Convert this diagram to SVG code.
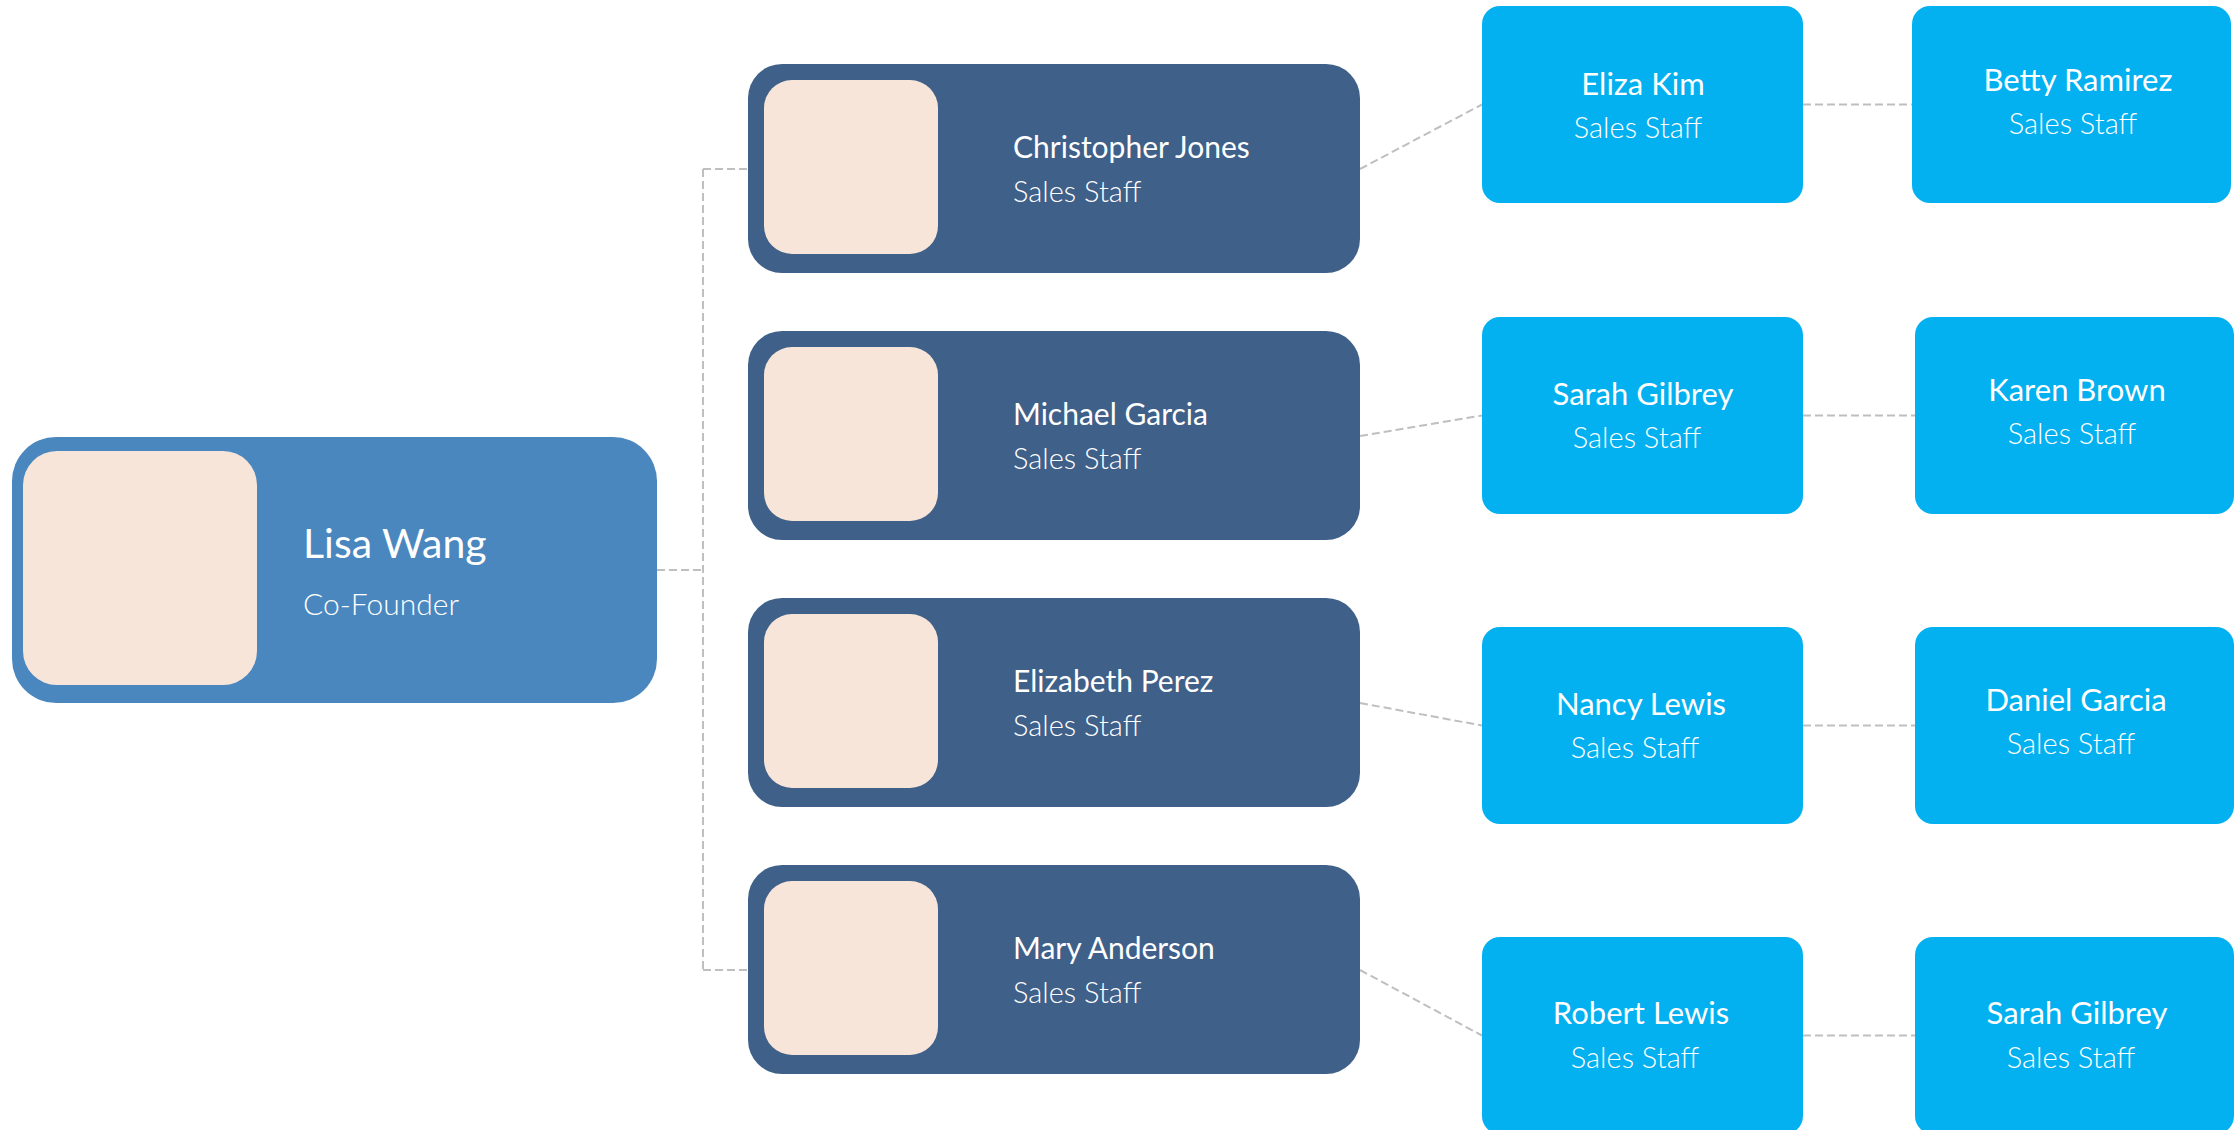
<svg xmlns="http://www.w3.org/2000/svg" width="2239" height="1130" viewBox="0 0 2239 1130">
<style>
.conn{fill:none;stroke:#BFBFBF;stroke-width:2;stroke-dasharray:8 4}
.root{fill:#4A87BE}
.mid{fill:#3F6089}
.leaf{fill:#03B0F0}
.photo{fill:#F8E5D9}
text{font-family:Lato,"Open Sans","Liberation Sans",sans-serif;fill:#FFFFFF}
.rn{font-size:41px;font-weight:400}
.rs{font-size:30px;font-weight:300}
.mn{font-size:30px;font-weight:400}
.ms{font-size:29px;font-weight:300}
.ln{font-size:31px;font-weight:400;text-anchor:middle}
.ls{font-size:29px;font-weight:300;text-anchor:middle}
</style>
<rect width="2239" height="1130" fill="#FFFFFF"/>
<g id="connectors">
<path class="conn" d="M657 570H703"/>
<path class="conn" d="M703 169V970"/>
<path class="conn" d="M703 169H748"/>
<path class="conn" d="M703 970H748"/>
<path class="conn" d="M1360 169L1482 104.5"/>
<path class="conn" d="M1360 436L1482 415.5"/>
<path class="conn" d="M1360 703L1482 725.5"/>
<path class="conn" d="M1360 970L1482 1035.5"/>
<path class="conn" d="M1803 104.5H1912"/>
<path class="conn" d="M1803 415.5H1915"/>
<path class="conn" d="M1803 725.5H1915"/>
<path class="conn" d="M1803 1035.5H1915"/>
</g>
<g id="lisa-wang">
<rect class="root" x="12" y="437" width="645" height="266" rx="44"/>
<rect class="photo" x="23" y="451" width="234" height="234" rx="34"/>
<text class="rn" x="303" y="558">Lisa Wang</text>
<text class="rs" x="303" y="615">Co-Founder</text>
</g>
<g id="christopher-jones">
<rect class="mid" x="748" y="64" width="612" height="209" rx="34"/>
<rect class="photo" x="764" y="80" width="174" height="174" rx="28"/>
<text class="mn" x="1013" y="158">Christopher Jones</text>
<text class="ms" x="1013" y="202">Sales Staff</text>
</g>
<g id="michael-garcia">
<rect class="mid" x="748" y="331" width="612" height="209" rx="34"/>
<rect class="photo" x="764" y="347" width="174" height="174" rx="28"/>
<text class="mn" x="1013" y="425">Michael Garcia</text>
<text class="ms" x="1013" y="469">Sales Staff</text>
</g>
<g id="elizabeth-perez">
<rect class="mid" x="748" y="598" width="612" height="209" rx="34"/>
<rect class="photo" x="764" y="614" width="174" height="174" rx="28"/>
<text class="mn" x="1013" y="692">Elizabeth Perez</text>
<text class="ms" x="1013" y="736">Sales Staff</text>
</g>
<g id="mary-anderson">
<rect class="mid" x="748" y="865" width="612" height="209" rx="34"/>
<rect class="photo" x="764" y="881" width="174" height="174" rx="28"/>
<text class="mn" x="1013" y="959">Mary Anderson</text>
<text class="ms" x="1013" y="1003">Sales Staff</text>
</g>
<g id="eliza-kim">
<rect class="leaf" x="1482" y="6" width="321" height="197" rx="18"/>
<text class="ln" x="1643" y="95">Eliza Kim</text>
<text class="ls" x="1638" y="138">Sales Staff</text>
</g>
<g id="betty-ramirez">
<rect class="leaf" x="1912" y="6" width="319" height="197" rx="18"/>
<text class="ln" x="2078" y="91">Betty Ramirez</text>
<text class="ls" x="2073" y="134">Sales Staff</text>
</g>
<g id="sarah-gilbrey-1">
<rect class="leaf" x="1482" y="317" width="321" height="197" rx="18"/>
<text class="ln" x="1643" y="405">Sarah Gilbrey</text>
<text class="ls" x="1637" y="448">Sales Staff</text>
</g>
<g id="karen-brown">
<rect class="leaf" x="1915" y="317" width="319" height="197" rx="18"/>
<text class="ln" x="2077" y="401">Karen Brown</text>
<text class="ls" x="2072" y="444">Sales Staff</text>
</g>
<g id="nancy-lewis">
<rect class="leaf" x="1482" y="627" width="321" height="197" rx="18"/>
<text class="ln" x="1641" y="715">Nancy Lewis</text>
<text class="ls" x="1635" y="758">Sales Staff</text>
</g>
<g id="daniel-garcia">
<rect class="leaf" x="1915" y="627" width="319" height="197" rx="18"/>
<text class="ln" x="2076" y="711">Daniel Garcia</text>
<text class="ls" x="2071" y="754">Sales Staff</text>
</g>
<g id="robert-lewis">
<rect class="leaf" x="1482" y="937" width="321" height="197" rx="18"/>
<text class="ln" x="1641" y="1024">Robert Lewis</text>
<text class="ls" x="1635" y="1068">Sales Staff</text>
</g>
<g id="sarah-gilbrey-2">
<rect class="leaf" x="1915" y="937" width="319" height="197" rx="18"/>
<text class="ln" x="2077" y="1024">Sarah Gilbrey</text>
<text class="ls" x="2071" y="1068">Sales Staff</text>
</g>
</svg>
